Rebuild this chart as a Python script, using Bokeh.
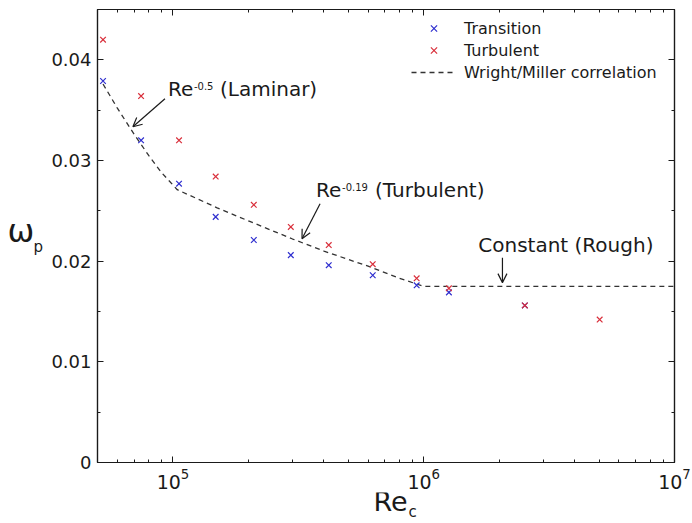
from bokeh.plotting import figure
from bokeh.layouts import row, column
from bokeh.models import (Range1d, FixedTicker, LogAxis, LinearAxis, Label, Arrow, OpenHead,
                          Legend, LegendItem, CustomJSTickFormatter, LogTickFormatter, ColumnDataSource)
from bokeh.embed import file_html
from bokeh.resources import INLINE

# ---------------- data ----------------
re_transition = [5.26e4, 7.46e4, 1.057e5, 1.48e5, 2.10e5, 2.95e5, 4.18e5, 6.26e5, 9.37e5, 1.26e6, 2.53e6]
omega_transition = [0.0379, 0.0320, 0.0277, 0.0244, 0.0221, 0.0206, 0.0196, 0.0186, 0.0176, 0.0169, 0.0156]

re_turbulent = [5.26e4, 7.46e4, 1.057e5, 1.48e5, 2.10e5, 2.95e5, 4.18e5, 6.26e5, 9.37e5, 1.26e6, 2.53e6, 5.03e6]
omega_turbulent = [0.0420, 0.0364, 0.0320, 0.0284, 0.0256, 0.0234, 0.0216, 0.0197, 0.0183, 0.0173, 0.0156, 0.0142]

re_corr = [5.26e4, 6.0e4, 7.0e4, 8.0e4, 9.0e4, 1.04e5, 1.5e5, 2.0e5, 3.0e5, 4.0e5, 6.0e5, 8.0e5, 1.0e6, 1.0e7]
omega_corr = [0.0376, 0.0352, 0.0326, 0.0305, 0.0288, 0.0271, 0.0253, 0.0240, 0.0222, 0.0210, 0.0195, 0.0183, 0.0175, 0.0175]

x_major_ticks = [1e5, 1e6, 1e7]
x_minor_ticks = [6e4, 7e4, 8e4, 9e4,
                 2e5, 3e5, 4e5, 5e5, 6e5, 7e5, 8e5, 9e5,
                 2e6, 3e6, 4e6, 5e6, 6e6, 7e6, 8e6, 9e6]
y_major_ticks = [0.0, 0.01, 0.02, 0.03, 0.04]
y_minor_ticks = [0.005, 0.015, 0.025, 0.035, 0.045]

legend_labels = ["Transition", "Turbulent", "Wright/Miller correlation"]

# annotation anchors (Re, omega)
laminar_text_at = (9.55e4, 0.03623)
laminar_arrow = (9.29e4, 0.03613, 6.92e4, 0.03335)
turb_text_at = (3.72e5, 0.0262)
turb_arrow = (3.86e5, 0.02571, 3.27e5, 0.02223)
rough_text_at = (1.65e6, 0.02074)
rough_arrow = (2.06e6, 0.02035, 2.06e6, 0.01787)

FONT = "DejaVu Sans"
BLUE = "#2f2fcf"
RED = "#d9303c"
INK = "#1a1a1a"
LIFT = 0.45      # empirical baseline correction, in em

LEFT_W = 48      # strip holding the y title
BOTTOM_H = 31    # strip holding the x title

p = figure(width=692 - LEFT_W, height=523 - BOTTOM_H, x_axis_type="log",
           x_range=Range1d(5e4, 1e7), y_range=Range1d(0, 0.045),
           output_backend="svg", toolbar_location=None,
           min_border_left=97 - LEFT_W, min_border_right=18, min_border_top=9,
           min_border_bottom=523 - BOTTOM_H - 462)
p.frame_align = False
p.grid.visible = False
p.outline_line_color = INK
p.outline_line_width = 1.2
p.background_fill_color = "white"
p.border_fill_color = "white"


def style_axis(ax, labels=True):
    ax.axis_line_color = INK
    ax.axis_line_width = 1.2
    ax.major_tick_line_color = INK
    ax.minor_tick_line_color = INK
    ax.major_tick_in = 6
    ax.major_tick_out = 0
    ax.minor_tick_in = 3
    ax.minor_tick_out = 0
    if labels:
        ax.major_label_text_font = FONT
        ax.major_label_text_color = INK
    else:
        ax.major_label_text_font_size = "0px"
        ax.major_label_standoff = 0


xax = p.xaxis[0]
xax.ticker = FixedTicker(ticks=x_major_ticks, minor_ticks=x_minor_ticks)
xax.formatter = LogTickFormatter()
style_axis(xax)
xax.major_label_text_font_size = "19px"
xax.major_label_standoff = 5

yax = p.yaxis[0]
yax.ticker = FixedTicker(ticks=y_major_ticks, minor_ticks=y_minor_ticks)
yax.formatter = CustomJSTickFormatter(code="return tick == 0 ? '0' : tick.toFixed(2);")
style_axis(yax)
yax.major_label_text_font_size = "18px"
yax.major_label_standoff = 6

top = LogAxis(ticker=FixedTicker(ticks=x_major_ticks, minor_ticks=x_minor_ticks),
              formatter=CustomJSTickFormatter(code="return '';"))
style_axis(top, labels=False)
p.add_layout(top, "above")

right = LinearAxis(ticker=FixedTicker(ticks=y_major_ticks, minor_ticks=y_minor_ticks),
                   formatter=CustomJSTickFormatter(code="return '';"))
style_axis(right, labels=False)
p.add_layout(right, "right")

# ---------------- glyphs ----------------
src_corr = ColumnDataSource(dict(x=re_corr, y=omega_corr))
src_tr = ColumnDataSource(dict(x=re_transition, y=omega_transition))
src_tu = ColumnDataSource(dict(x=re_turbulent, y=omega_turbulent))

r_corr = p.line("x", "y", source=src_corr, line_color="#333333", line_width=1.3, line_dash="5 4")
r_tr = p.scatter("x", "y", source=src_tr, marker="x", size=8, line_color=BLUE, line_width=1.2)
r_tu = p.scatter("x", "y", source=src_tu, marker="x", size=8, line_color=RED, line_width=1.2)

legend = Legend(items=[LegendItem(label=legend_labels[0], renderers=[r_tr]),
                       LegendItem(label=legend_labels[1], renderers=[r_tu]),
                       LegendItem(label=legend_labels[2], renderers=[r_corr])],
                location=(314, 379), margin=0, padding=0, spacing=0,
                glyph_width=45, glyph_height=22, label_height=22, label_standoff=8,
                label_text_font=FONT, label_text_font_size="16px", label_text_color=INK,
                border_line_alpha=0, background_fill_alpha=0)
p.add_layout(legend)

# ---------------- annotations ----------------
def add_text(fig, at, text, size, dx=0, dy=0):
    fig.add_layout(Label(x=at[0], y=at[1], text=text, x_offset=dx, y_offset=dy + LIFT * size,
                         text_font=FONT, text_font_size=f"{size}px", text_color=INK,
                         text_baseline="alphabetic", text_align="left"))


add_text(p, laminar_text_at, "Re", 20)
add_text(p, laminar_text_at, "-0.5", 10, dx=26, dy=7)
add_text(p, laminar_text_at, "(Laminar)", 20, dx=52)

add_text(p, turb_text_at, "Re", 20)
add_text(p, turb_text_at, "-0.19", 10, dx=26, dy=7)
add_text(p, turb_text_at, "(Turbulent)", 20, dx=59)

add_text(p, rough_text_at, "Constant (Rough)", 20)

for a in (laminar_arrow, turb_arrow, rough_arrow):
    p.add_layout(Arrow(x_start=a[0], y_start=a[1], x_end=a[2], y_end=a[3],
                       line_color=INK, line_width=1.2,
                       end=OpenHead(size=9, line_color=INK, line_width=1.2)))


# ---------------- axis titles in thin side strips ----------------
def strip(width, height):
    f = figure(width=width, height=height, output_backend="svg", toolbar_location=None,
               x_axis_location=None, y_axis_location=None, min_border=0,
               x_range=Range1d(0, 1), y_range=Range1d(0, 1))
    f.frame_align = False
    f.grid.visible = False
    f.outline_line_color = None
    f.background_fill_color = "white"
    f.border_fill_color = "white"
    return f


def add_screen_text(fig, x, y, text, size):
    fig.add_layout(Label(x=x, y=y + LIFT * size, x_units="screen", y_units="screen", text=text,
                         text_font=FONT, text_font_size=f"{size}px", text_color=INK,
                         text_baseline="alphabetic", text_align="left"))


left_strip = strip(LEFT_W, 523)
add_screen_text(left_strip, 7, 523 - 245, "ω", 32)
add_screen_text(left_strip, 33, 523 - 253, "p", 15)

bottom_strip = strip(692 - LEFT_W, BOTTOM_H)
add_screen_text(bottom_strip, 373 - LEFT_W, 523 - 513, "Re", 27)
add_screen_text(bottom_strip, 408 - LEFT_W, 523 - 518, "c", 15)

layout = row(left_strip, column(p, bottom_strip, spacing=0), spacing=0)

open("out.html", "w").write(file_html(layout, INLINE))
